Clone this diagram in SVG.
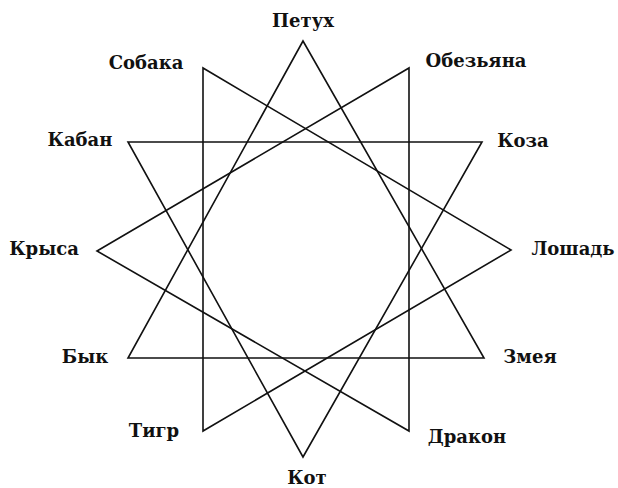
<svg xmlns="http://www.w3.org/2000/svg" width="618" height="488" viewBox="0 0 618 488">
<style>
.lbl{font-family:"DejaVu Serif","Liberation Serif",serif;font-weight:bold;font-size:18px;fill:#111;text-anchor:middle}
.tri{fill:none;stroke:#111;stroke-width:1.6;stroke-linejoin:miter}
</style>
<rect width="618" height="488" fill="#fff"/>
<g id="connectors">
<polygon class="tri" points="303,41 484,358 128,358"/>
<polygon class="tri" points="303,457 128,142 482,142"/>
<polygon class="tri" points="97,251 409,68 409,431"/>
<polygon class="tri" points="511,250 203,68 203,431"/>
</g>
<g id="n-petukh"><text class="lbl" x="303" y="27">Петух</text></g>
<g id="n-sobaka"><text class="lbl" x="146" y="69">Собака</text></g>
<g id="n-obezyana"><text class="lbl" x="476" y="67">Обезьяна</text></g>
<g id="n-kaban"><text class="lbl" x="80" y="146">Кабан</text></g>
<g id="n-koza"><text class="lbl" x="523" y="147">Коза</text></g>
<g id="n-krysa"><text class="lbl" x="44" y="255">Крыса</text></g>
<g id="n-loshad"><text class="lbl" x="573" y="255">Лошадь</text></g>
<g id="n-byk"><text class="lbl" x="85" y="363">Бык</text></g>
<g id="n-zmeya"><text class="lbl" x="530" y="363">Змея</text></g>
<g id="n-tigr"><text class="lbl" x="154" y="437">Тигр</text></g>
<g id="n-drakon"><text class="lbl" x="467" y="443">Дракон</text></g>
<g id="n-kot"><text class="lbl" x="307" y="484">Кот</text></g>
</svg>
